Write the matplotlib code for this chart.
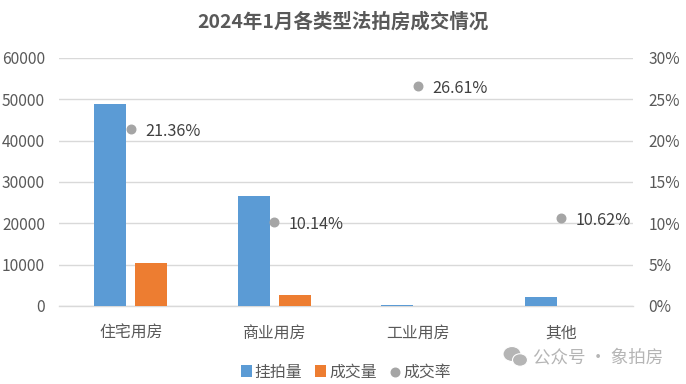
import matplotlib
matplotlib.use("Agg")
import matplotlib.pyplot as plt
from matplotlib.patches import Ellipse
import numpy as np

plt.rcParams['font.family'] = ['Noto Sans CJK SC', 'DejaVu Sans']

categories = ['住宅用房', '商业用房', '工业用房', '其他']
listed = [48900, 26700, 350, 2200]
sold = [10300, 2600, 0, 0]
rate = [21.36, 10.14, 26.61, 10.62]
rate_labels = ['21.36%', '10.14%', '26.61%', '10.62%']
left_ticks = [0, 10000, 20000, 30000, 40000, 50000, 60000]
right_ticks = [0, 5, 10, 15, 20, 25, 30]

W, H = 686, 384
fig = plt.figure(figsize=(W/100, H/100), dpi=100, facecolor='white')
ax = fig.add_axes([59/W, 1-306/H, 574/W, 248/H])
x = np.arange(len(categories))
bw = 0.223
off = 0.143
b1 = ax.bar(x-off, listed, bw, color='#5B9BD5', label='挂拍量', zorder=3)
b2 = ax.bar(x+off, sold, bw, color='#ED7D31', label='成交量', zorder=3)
ax.set_xlim(-0.5, 3.5)
ax.set_ylim(0, 60000)
ax.set_yticks(left_ticks)
ax.set_xticks(x)
ax.set_xticklabels(categories)
ax.grid(axis='y', color='#D9D9D9', lw=1, zorder=0)
ax.tick_params(length=0)
ax.tick_params(axis='y', labelsize=11.2, labelcolor='#595959', pad=10)
ax.tick_params(axis='x', labelsize=11.4, labelcolor='#595959', pad=13.5)
for s in ax.spines.values():
    s.set_visible(False)
ax.spines['bottom'].set_visible(True)
ax.spines['bottom'].set_color('#D9D9D9')
ax.spines['bottom'].set_linewidth(1)

ax2 = ax.twinx()
ax2.set_ylim(0, 30)
ax2.set_yticks(right_ticks)
ax2.set_yticklabels([f'{t}%' for t in right_ticks])
ax2.tick_params(length=0, labelsize=11.2, labelcolor='#595959', pad=11)
for s in ax2.spines.values():
    s.set_visible(False)
pts = ax2.scatter(x, rate, s=38, color='#A5A5A5', label='成交率', zorder=5, clip_on=False)
for xi, r, l in zip(x, rate, rate_labels):
    ax2.annotate(l, (xi, r), xytext=(10.5, -1.8), textcoords='offset points',
                 va='center', ha='left', fontsize=11.7, color='#404040')

fig.text(343/W, 1-22/H, '2024年1月各类型法拍房成交情况', ha='center', va='center',
         fontsize=14, fontweight='bold', color='#595959')
fig.legend(handles=[b1, b2, pts], loc='center', bbox_to_anchor=(346/W, 1-372/H), ncol=3,
           frameon=False, fontsize=11.4, labelcolor='#595959', handlelength=0.7, handleheight=0.7,
           handletextpad=0.2, columnspacing=0.8, markerscale=1.0)

# watermark: icon and text
wm = '#B5B5B5'
bubbles = [(512, 354, 18, 15, wm), (520, 360, 15, 12.5, wm)]
for cx, cy, w, h, c in bubbles:
    fig.add_artist(Ellipse((cx/W, 1-cy/H), w/W, h/H, transform=fig.transFigure,
                           facecolor=c, edgecolor='white', lw=0.8))
fig.text(598/W, 1-357/H, '公众号 · 象拍房', ha='center', va='center', fontsize=12.6, color=wm)
fig.savefig('out.png', dpi=100, facecolor='white')
